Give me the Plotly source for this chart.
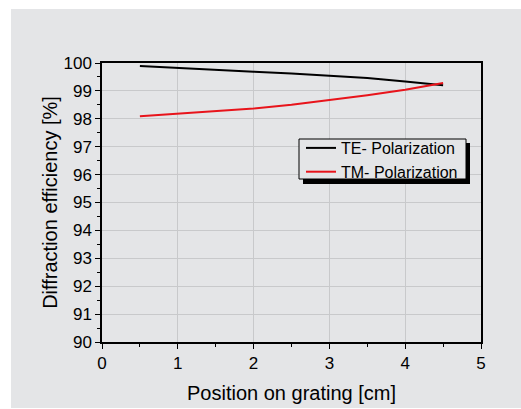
import plotly.graph_objects as go

position_cm = [0.5, 1.0, 1.5, 2.0, 2.5, 3.0, 3.5, 4.0, 4.5]
te_eff = [99.89, 99.83, 99.76, 99.69, 99.62, 99.55, 99.46, 99.34, 99.20]
tm_eff = [98.09, 98.19, 98.28, 98.37, 98.50, 98.66, 98.84, 99.04, 99.28]
series_names = ["TE- Polarization", "TM- Polarization"]
x_ticks = [0, 1, 2, 3, 4, 5]
y_ticks = [90, 91, 92, 93, 94, 95, 96, 97, 98, 99, 100]

W, H = 521, 409
ML, MR, MT, MB = 102, 40, 63, 67
pw, ph = W - ML - MR, H - MT - MB

def px2x(px):
    return (px - ML) / pw

def py2y(py):
    return 1 - (py - MT) / ph

FONT = "Arial, Liberation Sans, sans-serif"
BG = "#e4e5e7"

fig = go.Figure()
fig.add_trace(go.Scatter(x=position_cm, y=te_eff, mode="lines", name=series_names[0],
                         line=dict(color="black", width=2)))
fig.add_trace(go.Scatter(x=position_cm, y=tm_eff, mode="lines", name=series_names[1],
                         line=dict(color="#e8141b", width=2)))

axis_common = dict(showline=True, linecolor="black", linewidth=1.5, mirror=True,
                   ticks="outside", ticklen=5, tickwidth=1, tickcolor="black",
                   showgrid=True, gridcolor="#c8c9cb", gridwidth=1, zeroline=False,
                   tickfont=dict(family=FONT, size=17, color="black"))

fig.update_xaxes(range=[0, 5], tickvals=x_ticks,
                 minor=dict(dtick=0.5, ticks="outside", ticklen=3, tickcolor="black", showgrid=False),
                 title=dict(text="Position on grating [cm]", font=dict(family=FONT, size=20, color="black"), standoff=14),
                 **axis_common)
fig.update_yaxes(range=[90, 100], tickvals=y_ticks,
                 minor=dict(dtick=0.5, ticks="outside", ticklen=3, tickcolor="black", showgrid=False),
                 title=dict(text="Diffraction efficiency [%]", font=dict(family=FONT, size=20, color="black"), standoff=0),
                 **axis_common)

shapes = [
    dict(type="rect", xref="paper", yref="paper", layer="below",
         x0=px2x(11), x1=px2x(521), y0=py2y(408), y1=py2y(9),
         fillcolor=BG, line=dict(width=0)),
    # legend shadow
    dict(type="rect", xref="paper", yref="paper", layer="above",
         x0=px2x(303), x1=px2x(470), y0=py2y(184), y1=py2y(143),
         fillcolor="black", line=dict(width=0)),
    # legend box
    dict(type="rect", xref="paper", yref="paper", layer="above",
         x0=px2x(299), x1=px2x(466), y0=py2y(179), y1=py2y(139),
         fillcolor=BG, line=dict(color="black", width=1)),
]

fig.update_layout(
    width=W, height=H,
    margin=dict(l=ML, r=MR, t=MT, b=MB, autoexpand=False),
    paper_bgcolor="white", plot_bgcolor="rgba(0,0,0,0)",
    font=dict(family=FONT, color="black"),
    shapes=shapes,
    showlegend=True,
    legend=dict(x=px2x(301), y=py2y(131), xanchor="left", yanchor="top",
                bgcolor="rgba(0,0,0,0)", borderwidth=0,
                font=dict(family=FONT, size=16, color="black"),
                tracegroupgap=0, itemwidth=30),
)

fig.write_html("out.html")
